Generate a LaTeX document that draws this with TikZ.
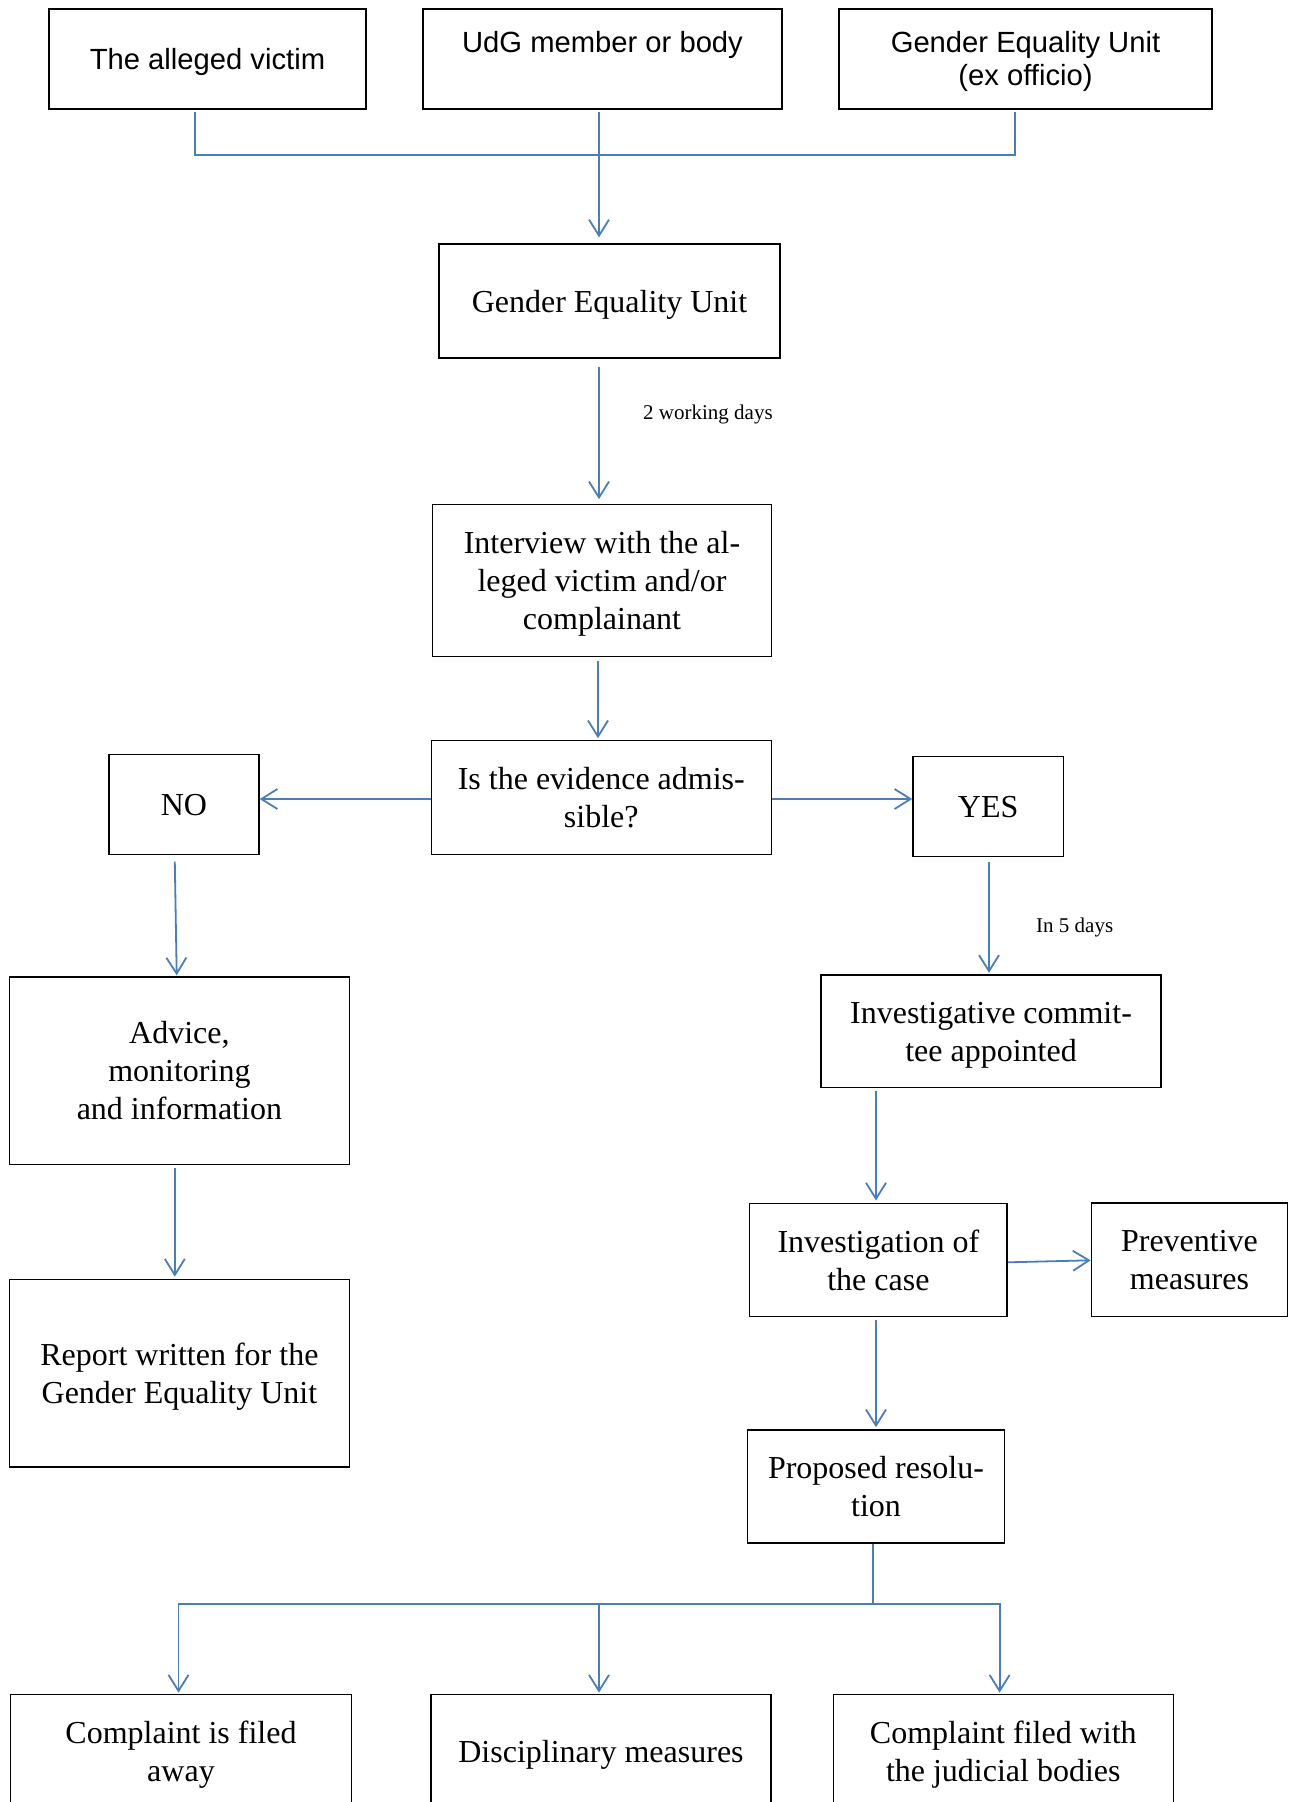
\documentclass[tikz,border=0pt]{standalone}
\usepackage{fontspec}
\setmainfont{Liberation Serif}
\newfontfamily\arialf{Liberation Sans}
\usetikzlibrary{arrows.meta}
\definecolor{lineblue}{RGB}{74,126,187}
\newcommand{\tA}{\rule{0pt}{30pt}}
\newcommand{\tB}{\rule[-8pt]{0pt}{8pt}}
\newcommand{\sA}{\rule{0pt}{27pt}}
\newcommand{\sB}{\rule[-7pt]{0pt}{7pt}}
\begin{document}
\begin{tikzpicture}[x=1pt,y=-1pt,
  box/.style={draw=black, line width=1.4pt, inner sep=0pt, align=center,
    font=\fontsize{32}{38}\selectfont},
  topbox/.style={box, line width=1.8pt, font=\arialf\fontsize{29.2}{33}\selectfont},
  line/.style={draw=lineblue, line width=1.8pt},
  conn/.style={line, -{Straight Barb[length=16pt,width=20pt]}},
  lbl/.style={font=\fontsize{21}{25}\selectfont, inner sep=0pt}]
\fill[white] (0,0) rectangle (1290,1802);
\useasboundingbox (0,0) rectangle (1290,1802);
\clip (0,0) rectangle (1290,1802);

% top row
\node[topbox, minimum width=317pt, minimum height=100pt] (vic) at (207.5,59) {\sA The alleged victim\sB};
\node[topbox, minimum width=359pt, minimum height=100pt] (udg) at (602.5,59) {\sA UdG member or body\\\sB};
\node[topbox, minimum width=373pt, minimum height=100pt] (geuo) at (1025.5,59) {\sA Gender Equality Unit\\(ex officio)\sB};

\node[box, minimum width=341pt, minimum height=114pt] (geu) at (609.5,301) {\tA Gender Equality Unit\tB};
\node[box, minimum width=339pt, minimum height=152pt] (intv) at (602,580.6) {\tA Interview with the al-\\leged victim and/or\\complainant\tB};
\node[box, minimum width=340pt, minimum height=114pt] (evid) at (601.3,797.3) {\tA Is the evidence admis-\\sible?\tB};
\node[box, minimum width=150pt, minimum height=100pt] (no) at (184,804.5) {\tA NO\tB};
\node[box, minimum width=150.5pt, minimum height=100pt] (yes) at (988.2,806.3) {\tA YES\tB};

\node[box, minimum width=340.3pt, minimum height=187.6pt] (adv) at (179.4,1070.8) {\tA Advice,\\monitoring\\and information\tB};
\node[box, minimum width=340.3pt, minimum height=187.4pt] (rep) at (179.4,1373.3) {\tA Report written for the\\Gender Equality Unit\tB};

\node[box, minimum width=340.3pt, minimum height=112.6pt] (ctee) at (991,1031.3) {\tA Investigative commit-\\tee appointed\tB};
\node[box, minimum width=257.5pt, minimum height=113pt] (inv) at (878.4,1260) {\tA Investigation of\\the case\tB};
\node[box, minimum width=196.3pt, minimum height=113.5pt] (prev) at (1189.5,1259.8) {\tA Preventive\\measures\tB};
\node[box, minimum width=257.5pt, minimum height=112.7pt] (prop) at (876,1486.5) {\tA Proposed resolu-\\tion\tB};

\node[box, minimum width=340.6pt, minimum height=114.4pt] (b1) at (181,1751.5) {\tA Complaint is filed\\away\tB};
\node[box, minimum width=339.8pt, minimum height=114.4pt] (b2) at (601,1751.5) {\tA Disciplinary measures\tB};
\node[box, minimum width=339.8pt, minimum height=114.4pt] (b3) at (1003.3,1751.5) {\tA Complaint filed with\\the judicial bodies\tB};

% labels
\node[lbl, anchor=west] (l1) at (643,414) {2 working days};
\node[lbl, anchor=west] (l2) at (1036,927.5) {In 5 days};

% connectors
\coordinate (j1) at (599,155);
\coordinate (j2) at (873,1604.3);
\draw[line] ([xshift=-12.5pt,yshift=-2.5pt]vic.south) |- ([xshift=-10.5pt]geuo.south |- j1) -- ([xshift=-10.5pt,yshift=-2.5pt]geuo.south);
\draw[conn] ([xshift=-3.5pt,yshift=-2.5pt]udg.south) -- ([xshift=-10.5pt,yshift=6pt]geu.north);
\draw[conn] ([xshift=-10.5pt,yshift=-8pt]geu.south) -- ([xshift=-3pt,yshift=4.7pt]intv.north);
\draw[conn] ([xshift=-4pt,yshift=-3.5pt]intv.south) -- ([xshift=-3.3pt,yshift=1.4pt]evid.north);
\draw[conn] ([yshift=-1.7pt]evid.west) -- ([yshift=5.5pt]no.east);
\draw[conn] ([yshift=-1.7pt]evid.east) -- ([yshift=7.3pt]yes.west);
\draw[conn] ([xshift=-9.2pt,yshift=-6.5pt]no.south) -- ([xshift=-2.7pt,yshift=1pt]adv.north);
\draw[conn] ([xshift=-4.6pt,yshift=-2.4pt]adv.south) -- ([xshift=-4.6pt,yshift=2.3pt]rep.north);
\draw[conn] ([xshift=0.8pt,yshift=-4.7pt]yes.south) -- ([xshift=-2pt,yshift=1.5pt]ctee.north);
\draw[conn] ([xshift=-115pt,yshift=-2.4pt]ctee.south) -- ([xshift=-2.4pt,yshift=2.3pt]inv.north);
\draw[conn] ([yshift=-2.3pt]inv.east) -- ([yshift=-0.5pt]prev.west);
\draw[conn] ([xshift=-2.4pt,yshift=-2.5pt]inv.south) -- ([yshift=2.2pt]prop.north);
\draw[conn] ([xshift=-3pt]prop.south) |- ([xshift=-2.5pt]b1.north |- j2) -- ([xshift=-2.5pt,yshift=1pt]b1.north);
\draw[conn] ([xshift=-3pt]prop.south) |- ([xshift=-3.7pt]b3.north |- j2) -- ([xshift=-3.7pt,yshift=1pt]b3.north);
\draw[conn] ([xshift=-2pt]b2.north |- j2) -- ([xshift=-2pt,yshift=1pt]b2.north);
\end{tikzpicture}
\end{document}
